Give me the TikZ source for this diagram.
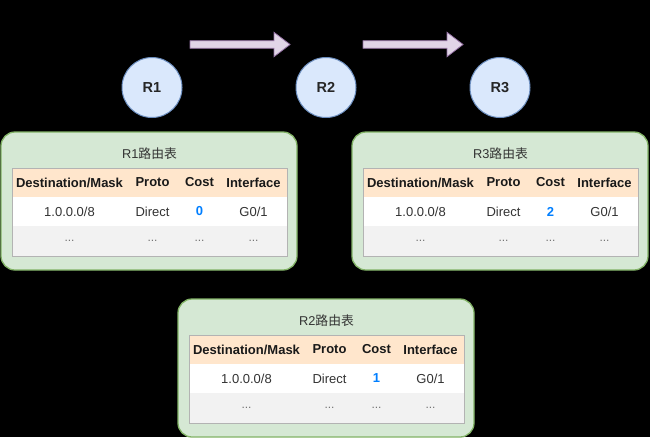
\documentclass[tikz,border=0pt]{standalone}
\usepackage{fontspec}
\setmainfont{Liberation Sans}
\newfontfamily\cjk{Noto Sans CJK SC}
\definecolor{arrfill}{HTML}{E1D5E7}
\definecolor{arrline}{HTML}{9673A6}
\definecolor{rfill}{HTML}{DAE8FC}
\definecolor{rline}{HTML}{6C8EBF}
\definecolor{gfill}{HTML}{D5E8D4}
\definecolor{gline}{HTML}{82B366}
\definecolor{hfill}{HTML}{FFE6CC}
\definecolor{row3fill}{HTML}{F2F2F2}
\definecolor{tline}{HTML}{B3B3B3}
\definecolor{txt}{HTML}{333333}
\definecolor{costblue}{HTML}{007FFF}
\newcommand{\rtab}[5]{%
  \draw[container] ({#2-11},{#3-36}) rectangle ({#2+285},{#3+102});
  \node[titletext] (#1title) at ({#2+137.5},{#3-14}) {#4};
  \fill[hfill] (#2,#3) rectangle ({#2+275},{#3+29});
  \fill[white] (#2,{#3+29}) rectangle ({#2+275},{#3+58});
  \fill[row3fill] (#2,{#3+58}) rectangle ({#2+275},{#3+88});
  \draw[tline,line width=0.8pt] (#2,#3) rectangle ({#2+275},{#3+88});
  \node[headtext] (#1h1) at ({#2+57.5},{#3+14.5}) {Destination/Mask};
  \node[headtext] (#1h2) at ({#2+140.5},{#3+14.5}) {Proto};
  \node[headtext] (#1h3) at ({#2+187.5},{#3+14.5}) {Cost};
  \node[headtext] (#1h4) at ({#2+241.5},{#3+14.5}) {Interface};
  \node[bodytext] (#1a1) at ({#2+57.5},{#3+43.5}) {1.0.0.0/8};
  \node[bodytext] (#1a2) at ({#2+140.5},{#3+43.5}) {Direct};
  \node[costtext] (#1a3) at ({#2+187.5},{#3+43.5}) {#5};
  \node[bodytext] (#1a4) at ({#2+241.5},{#3+43.5}) {G0/1};
  \node[dotstext] (#1b1) at ({#2+57.5},{#3+73}) {...};
  \node[dotstext] (#1b2) at ({#2+140.5},{#3+73}) {...};
  \node[dotstext] (#1b3) at ({#2+187.5},{#3+73}) {...};
  \node[dotstext] (#1b4) at ({#2+241.5},{#3+73}) {...};
}
\newcommand{\flatarrow}[3]{%
  \draw[arrowshape] ({#1},{#3-3.8}) -- ({#2-16},{#3-3.8}) -- ({#2-16},{#3-12.2})
    -- ({#2},{#3}) -- ({#2-16},{#3+12.2}) -- ({#2-16},{#3+3.8}) -- ({#1},{#3+3.8}) -- cycle;
}
\begin{document}
\begin{tikzpicture}[x=1pt,y=-1pt,
  container/.style={draw=gline,fill=gfill,line width=1.3pt,rounded corners=14pt},
  router/.style={circle,draw=rline,fill=rfill,line width=1pt,minimum size=60pt,inner sep=0pt,
    font=\fontsize{14.5}{16}\selectfont\bfseries,text=black!85},
  titletext/.style={inner sep=0pt,font=\fontsize{12.8}{15}\selectfont,text=txt},
  headtext/.style={inner sep=0pt,font=\fontsize{13}{15}\selectfont\bfseries,text=black!90},
  bodytext/.style={inner sep=0pt,font=\fontsize{13}{15}\selectfont,text=txt},
  costtext/.style={inner sep=0pt,font=\fontsize{13}{15}\selectfont\bfseries,text=costblue},
  dotstext/.style={inner sep=0pt,font=\fontsize{12}{14}\selectfont,text=black!55},
  arrowshape/.style={draw=arrline,fill=arrfill,line width=0.8pt,line join=miter}]
\fill[black] (0,0) rectangle (650,437);
\useasboundingbox (0,0) rectangle (650,437);
\flatarrow{190}{290}{44.5}
\flatarrow{363}{463}{44.5}
\node[router] (R1) at (152,87.5) {R1};
\node[router] (R2) at (326,87.5) {R2};
\node[router] (R3) at (500,87.5) {R3};
\rtab{t1}{12}{168}{R1{\cjk 路由表}}{0}
\rtab{t3}{363}{168}{R3{\cjk 路由表}}{2}
\rtab{t2}{189}{335}{R2{\cjk 路由表}}{1}
\end{tikzpicture}
\end{document}
